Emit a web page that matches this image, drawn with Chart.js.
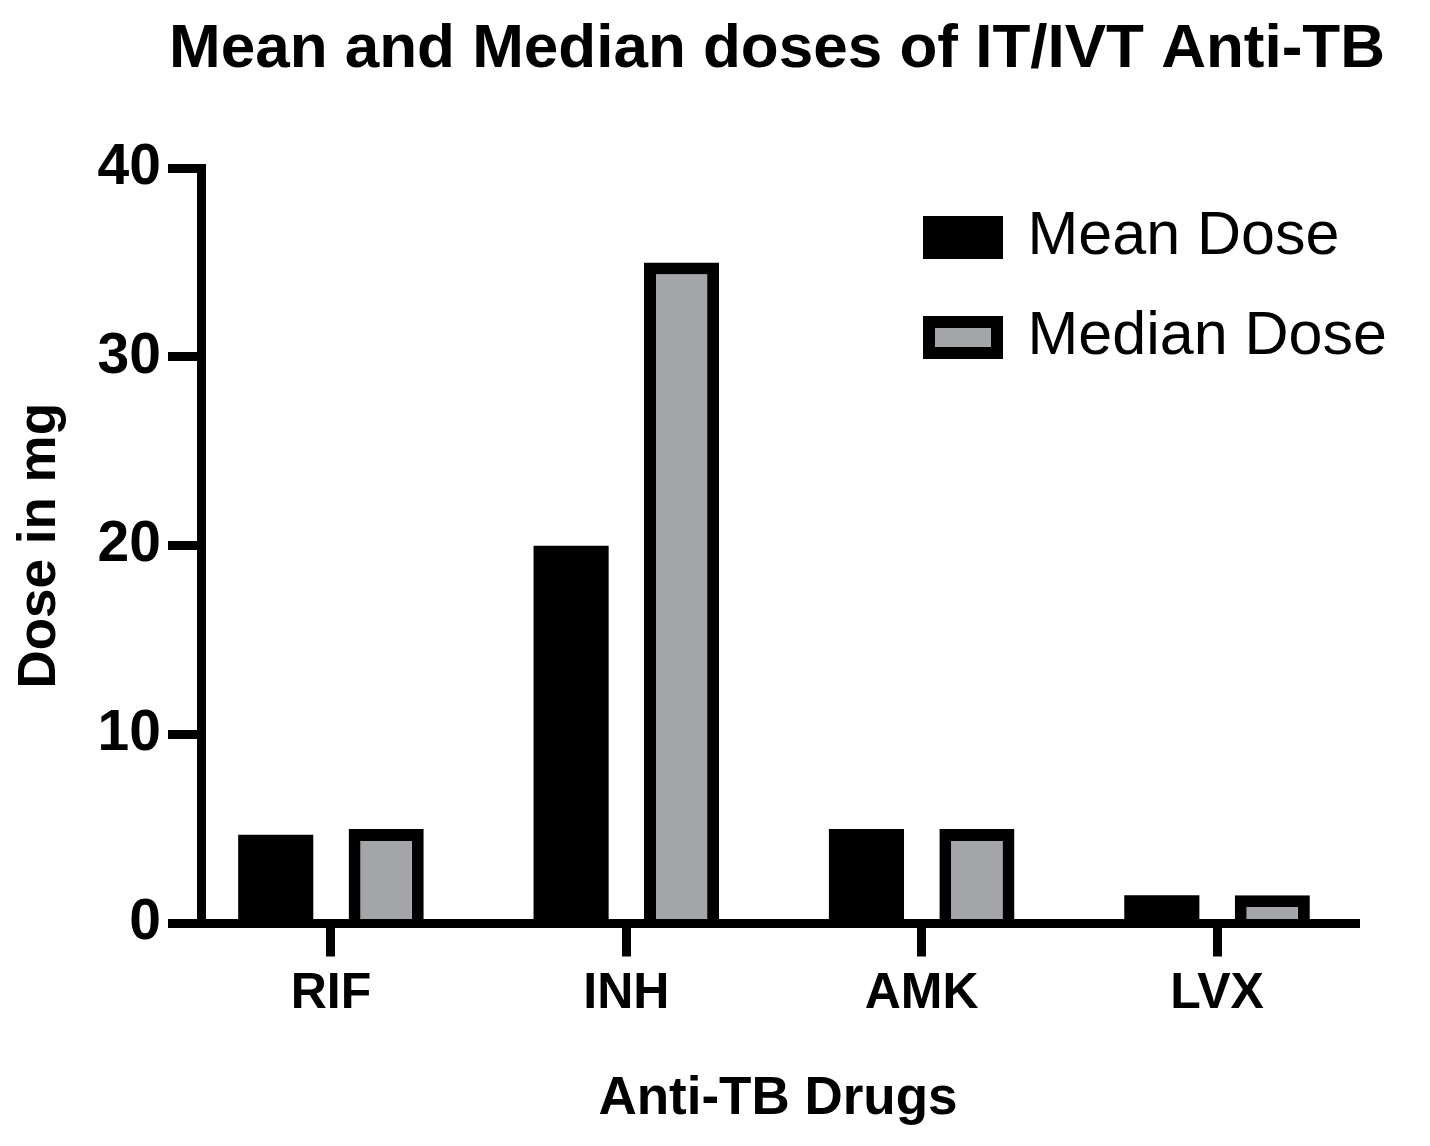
<!DOCTYPE html>
<html>
<head>
<meta charset="utf-8">
<title>Mean and Median doses of IT/IVT Anti-TB</title>
<script src="https://cdn.jsdelivr.net/npm/chart.js@4/dist/chart.umd.min.js"></script>
<style>
  html, body { margin: 0; padding: 0; background: #fff; }
  #wrap { width: 1430px; height: 1146px; position: relative; }
</style>
</head>
<body>
<div id="wrap"><canvas id="dose-chart"></canvas></div>
<script>
// values
var categories = ["RIF", "INH", "AMK", "LVX"];
var meanDose = [4.7, 20, 5, 1.5];
var medianDose = [5, 35, 5, 1.5];
var yTicks = [0, 10, 20, 30, 40];

var seriesNames = ["Mean Dose", "Median Dose"];

// legend goes in the top right corner of the plot, title gets a bit more room
var placeBoxes = {
  id: "placeBoxes",
  afterLayout: function(chart) {
    var lg = chart.legend;
    lg.left = 890;
    lg.top = 168;
    lg.right = 1430;
    lg.bottom = 420;
    lg.width = lg.right - lg.left;
    lg.height = lg.bottom - lg.top;

    var tb = chart.titleBlock;
    tb.left = 140;
    tb.right = 1414;
    tb.width = tb.right - tb.left;
  }
};

document.addEventListener("DOMContentLoaded", function() {
  Chart.defaults.font.family = "'Liberation Sans', Arial, sans-serif";
  Chart.defaults.color = "#000";

  var ctx = document.getElementById("dose-chart").getContext("2d");

  new Chart(ctx, {
    type: "bar",
    data: {
      labels: categories.map(function(c, i) { return i; }),
      datasets: [
        {
          label: seriesNames[0],
          data: meanDose,
          backgroundColor: "#000000",
          borderColor: "#000000",
          borderWidth: 0,
        },
        {
          label: seriesNames[1],
          data: medianDose,
          backgroundColor: "#a4a5a9",
          borderColor: "#000000",
          borderWidth: 12,
        },
      ],
    },
    options: {
      responsive: true,
      maintainAspectRatio: false,
      animation: false,
      categoryPercentage: 0.748,
      barPercentage: 0.68,
      layout: {
        padding: { top: 0, bottom: 0, left: 0, right: 75 },
      },
      scales: {
        x: {
          type: "linear",
          z: 1,
          offset: false,
          bounds: "data",
          min: -0.44,
          max: 3.467,
          afterBuildTicks: function(scale) {
            scale.ticks = categories.map(function(c, i) { return { value: i }; });
          },
          afterFit: function(scale) {
            scale.height = 222.5;
          },
          border: { display: true, color: "#000", width: 9 },
          grid: {
            offset: false,
            drawOnChartArea: false,
            drawTicks: true,
            tickLength: 33,
            lineWidth: 9,
            color: "#000",
          },
          ticks: {
            autoSkip: false,
            maxRotation: 0,
            padding: 8,
            font: { size: 50, weight: "bold" },
            callback: function(value) { return categories[value]; },
          },
          title: {
            display: true,
            text: "Anti-TB Drugs",
            font: { size: 53, weight: "bold" },
            padding: { top: 0, bottom: 15 },
          },
        },
        y: {
          z: 1,
          min: yTicks[0],
          max: yTicks[yTicks.length - 1],
          afterFit: function(scale) {
            scale.width = 201;
          },
          border: { display: true, color: "#000", width: 9 },
          grid: {
            drawOnChartArea: false,
            drawTicks: true,
            tickLength: 33,
            lineWidth: 9,
            color: "#000",
          },
          ticks: {
            stepSize: yTicks[1] - yTicks[0],
            padding: 7,
            font: { size: 57, weight: "bold" },
          },
          title: {
            display: true,
            text: "Dose in mg",
            font: { size: 53, weight: "bold" },
            padding: { top: 9, bottom: 0 },
          },
        },
      },
      plugins: {
        title: {
          display: true,
          fullSize: false,
          text: "Mean and Median doses of IT/IVT Anti-TB",
          font: { size: 62, weight: "bold" },
          padding: { top: 13, bottom: 80.6 },
        },
        legend: {
          display: true,
          position: "chartArea",
          align: "start",
          labels: {
            boxWidth: 68,
            boxHeight: 31,
            padding: 39,
            font: { size: 61 },
            // both legend boxes get the same black frame
            generateLabels: function(chart) {
              var items = Chart.defaults.plugins.legend.labels.generateLabels(chart);
              items.forEach(function(it) {
                it.strokeStyle = "#000000";
                it.lineWidth = 12;
              });
              return items;
            },
          },
        },
        tooltip: { enabled: false },
      },
    },
    plugins: [placeBoxes],
  });
});
</script>
</body>
</html>
